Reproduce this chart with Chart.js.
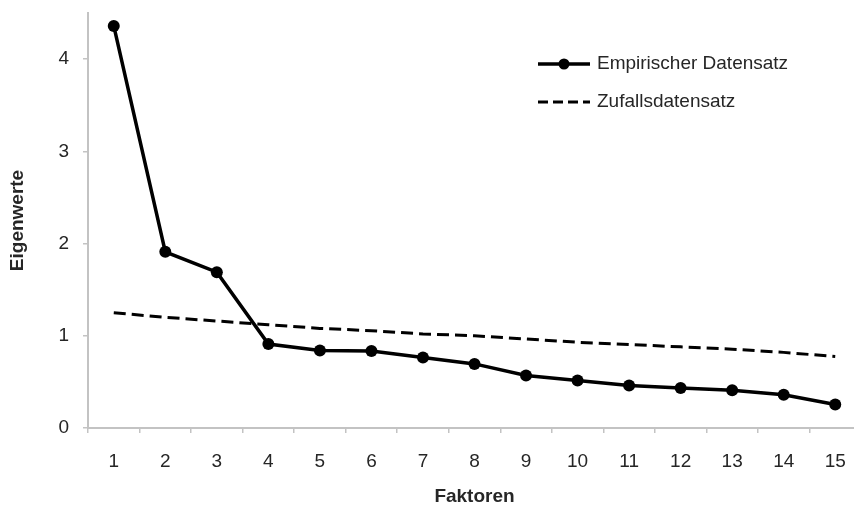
<!DOCTYPE html>
<html>
<head>
<meta charset="utf-8">
<script src="https://cdn.jsdelivr.net/npm/chart.js@4/dist/chart.umd.min.js"></script>
<style>
html,body{margin:0;padding:0;background:#fff;overflow:hidden;width:854px;height:507px;}
#wrap{width:854px;height:507px;overflow:hidden;position:relative;}
canvas{display:block;}
</style>
</head>
<body>
<div id="wrap"><canvas id="c" width="870" height="507"></canvas></div>
<script>
const factors = ['1','2','3','4','5','6','7','8','9','10','11','12','13','14','15'];
const empirical = [4.36, 1.91, 1.69, 0.91, 0.84, 0.835, 0.765, 0.695, 0.57, 0.515, 0.46, 0.435, 0.41, 0.36, 0.255];
const random = [1.25, 1.20, 1.16, 1.12, 1.08, 1.055, 1.02, 1.00, 0.965, 0.93, 0.905, 0.88, 0.855, 0.82, 0.775];
const yTicks = [0, 1, 2, 3, 4];
const seriesNames = ['Empirischer Datensatz', 'Zufallsdatensatz'];

const FONT = "'Liberation Sans', Arial, sans-serif";
const AXIS = '#c3c3c3';
const TEXT = '#262626';

const legendPlugin = {
  id: 'customLegend',
  afterDraw(chart) {
    const ctx = chart.ctx;
    ctx.save();
    const x0 = 538, x1 = 590, tx = 597;
    const rows = [64, 102];
    ctx.strokeStyle = '#000';
    ctx.lineWidth = 3.5;
    ctx.setLineDash([]);
    ctx.beginPath(); ctx.moveTo(x0, rows[0]); ctx.lineTo(x1, rows[0]); ctx.stroke();
    ctx.fillStyle = '#000';
    ctx.beginPath(); ctx.arc((x0 + x1) / 2, rows[0], 5.5, 0, Math.PI * 2); ctx.fill();
    ctx.lineWidth = 3;
    ctx.setLineDash([10, 5]);
    ctx.beginPath(); ctx.moveTo(x0, rows[1]); ctx.lineTo(x1, rows[1]); ctx.stroke();
    ctx.setLineDash([]);
    ctx.fillStyle = TEXT;
    ctx.font = '19px ' + FONT;
    ctx.textBaseline = 'middle';
    ctx.textAlign = 'left';
    ctx.fillText(seriesNames[0], tx, rows[0]);
    ctx.fillText(seriesNames[1], tx, rows[1]);
    ctx.restore();
  }
};

new Chart(document.getElementById('c'), {
  type: 'line',
  data: {
    labels: factors,
    datasets: [
      {
        label: seriesNames[0],
        data: empirical,
        borderColor: '#000',
        backgroundColor: '#000',
        borderWidth: 3.5,
        pointRadius: 6,
        pointBackgroundColor: '#000',
        pointBorderWidth: 0,
        tension: 0,
        fill: false
      },
      {
        label: seriesNames[1],
        data: random,
        borderColor: '#000',
        borderWidth: 3,
        borderDash: [12, 6],
        pointRadius: 0,
        tension: 0,
        fill: false
      }
    ]
  },
  options: {
    responsive: false,
    devicePixelRatio: 1,
    animation: false,
    layout: { padding: { top: 13, right: 9, left: 0, bottom: 0 } },
    plugins: { legend: { display: false }, tooltip: { enabled: false } },
    scales: {
      x: {
        offset: true,
        grid: { display: true, drawOnChartArea: false, offset: true, tickLength: 5, color: AXIS, lineWidth: 1.5 },
        border: { display: true, color: AXIS, width: 2 },
        ticks: { color: TEXT, font: { family: FONT, size: 19 }, padding: 17, maxRotation: 0, autoSkip: false },
        title: { display: true, text: 'Faktoren', color: TEXT, font: { family: FONT, size: 19, weight: 'bold' }, padding: { top: 0, bottom: -1 } },
        afterFit(axis) { axis.height = 79; axis.paddingLeft = 0; axis.paddingRight = 0; }
      },
      y: {
        min: 0,
        max: 4.5,
        grid: { display: true, drawOnChartArea: false, tickLength: 5, color: AXIS, lineWidth: 1.5 },
        border: { display: true, color: AXIS, width: 2 },
        ticks: { stepSize: 1, color: TEXT, font: { family: FONT, size: 19 }, padding: 14 },
        afterBuildTicks(axis) { axis.ticks = yTicks.map(v => ({ value: v })); },
        title: { display: true, text: 'Eigenwerte', color: TEXT, font: { family: FONT, size: 19, weight: 'bold' }, padding: { top: 6, bottom: 0 } },
        afterFit(axis) { axis.width = 88; axis.paddingTop = 0; axis.paddingBottom = 0; }
      }
    }
  },
  plugins: [legendPlugin]
});
</script>
</body>
</html>
